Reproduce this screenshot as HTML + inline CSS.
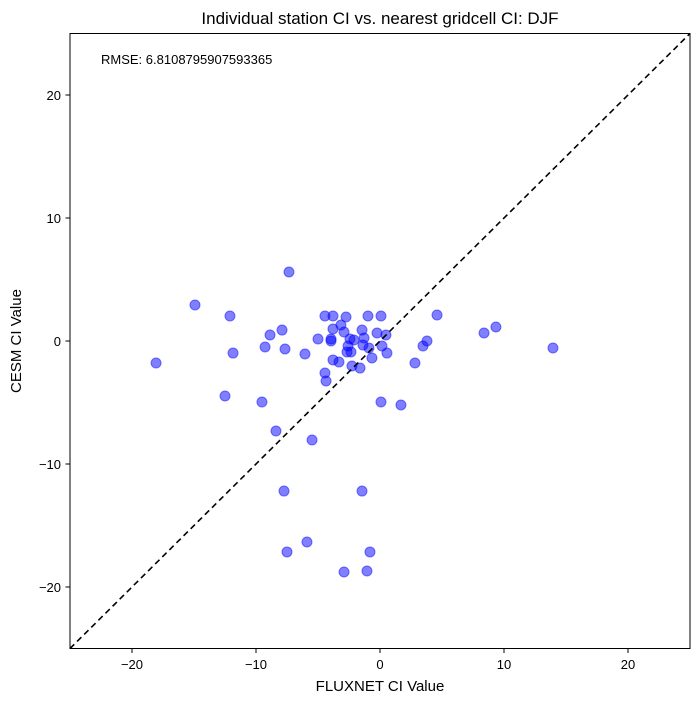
<!DOCTYPE html>
<html><head><meta charset="utf-8"><style>
body{margin:0;background:#fff;}
svg{display:block;font-family:"Liberation Sans","DejaVu Sans",sans-serif;}
</style></head><body>
<svg id="chart" width="699" height="703">
<text x="380" y="24" text-anchor="middle" font-size="17">Individual station CI vs. nearest gridcell CI: DJF</text>
<text x="380" y="691" text-anchor="middle" font-size="15">FLUXNET CI Value</text>
<text transform="translate(21,341) rotate(-90)" text-anchor="middle" font-size="15">CESM CI Value</text>
<text x="101" y="64" font-size="13">RMSE: 6.8108795907593365</text>
<g id="ticks"></g>
<g id="pts"></g>
<line id="diag" stroke="#000" stroke-width="1.6" stroke-dasharray="6,4"/>
<rect x="70" y="33.5" width="620" height="615" fill="none" stroke="#000" stroke-width="1"/>
</svg>
<script>
const xs=[-7.34,-4.44,-3.79,-2.74,-0.97,0.08,4.6,-3.15,-3.79,-2.9,-1.45,-0.24,0.48,-8.87,-7.9,-5.0,-3.95,-3.95,-2.42,-2.1,-1.29,3.79,3.47,-9.27,-7.66,-6.05,-2.58,-1.37,-0.89,0.16,-2.66,-2.34,0.56,-3.79,-3.31,-0.65,2.82,-2.26,-1.61,-4.44,-4.35,0.08,1.69,-18.06,-14.92,-12.1,-11.85,-12.5,-9.52,-8.39,-5.48,-7.74,-7.5,-5.89,-1.45,-2.9,-1.05,-0.81,8.39,9.35,13.95];
const ys=[5.61,2.03,2.03,1.95,2.03,2.03,2.11,1.3,0.98,0.73,0.89,0.65,0.49,0.49,0.89,0.16,0.16,0,0.16,0.08,0.24,0,-0.41,-0.49,-0.65,-1.06,-0.41,-0.33,-0.57,-0.41,-0.89,-0.89,-0.98,-1.54,-1.71,-1.38,-1.79,-2.03,-2.2,-2.6,-3.25,-4.96,-5.2,-1.79,2.93,2.03,-0.98,-4.47,-4.96,-7.32,-8.05,-12.2,-17.15,-16.34,-12.2,-18.78,-18.7,-17.15,0.65,1.14,-0.57];
const xTicks=[-20,-10,0,10,20];
const yTicks=[-20,-10,0,10,20];
const X=v=>380+v*12.4, Y=v=>341-v*12.3;
const NS="http://www.w3.org/2000/svg";
const tg=document.getElementById('ticks'), pg=document.getElementById('pts');
function mk(t,a,p){const e=document.createElementNS(NS,t);for(const k in a)e.setAttribute(k,a[k]);p.appendChild(e);return e;}
xTicks.forEach(v=>{
 const l=mk('line',{x1:X(v),x2:X(v),y1:648.5,y2:653,stroke:'#000'},tg);
 
 
 const t=mk('text',{x:X(v),y:669,'text-anchor':'middle','font-size':13},tg);
 t.textContent=(v<0?'\u2212'+(-v):v);
 
 
});
yTicks.forEach(v=>{
 const l=mk('line',{x1:65.5,x2:70,y1:Y(v),y2:Y(v),stroke:'#000'},tg);
 
 
 const t=mk('text',{x:61,y:Y(v)+5,'text-anchor':'end','font-size':13},tg);
 t.textContent=(v<0?'\u2212'+(-v):v);
 
 
});
xs.forEach((x,i)=>{
 const c=mk('circle',{cx:X(x),cy:Y(ys[i]),r:5,fill:'rgba(0,0,255,0.5)',stroke:'rgba(0,0,255,0.5)','stroke-width':1},pg);
 
 
});
const d=document.getElementById('diag');
d.setAttribute('x1',X(-25));d.setAttribute('y1',Y(-25));d.setAttribute('x2',X(25));d.setAttribute('y2',Y(25));
</script>
</body></html>
